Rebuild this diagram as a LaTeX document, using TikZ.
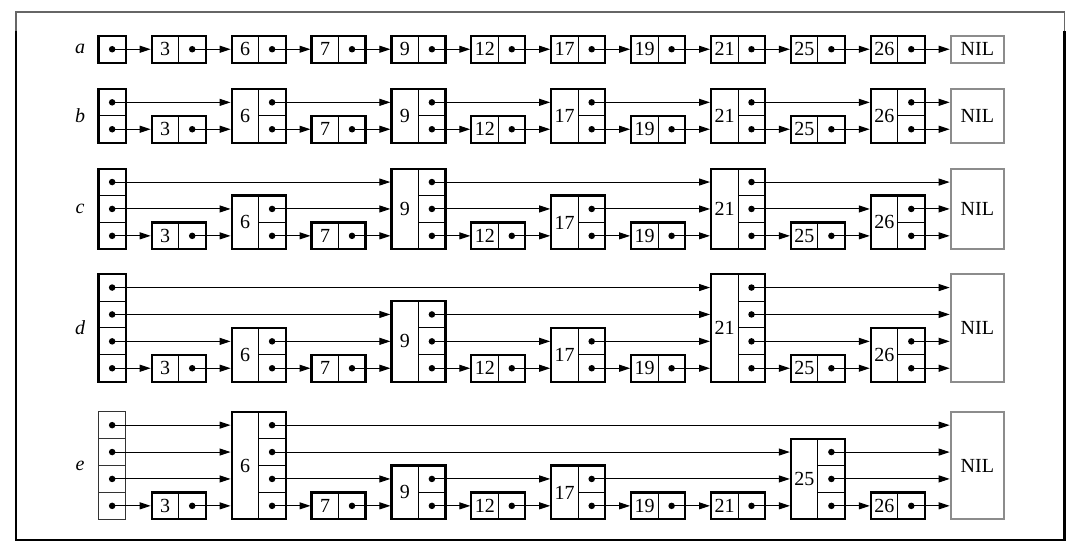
\documentclass[tikz,border=0pt]{standalone}
\usepackage{fontspec}
\setmainfont{Liberation Serif}
\usetikzlibrary{arrows.meta}
\def\ch{26.9}
\tikzset{
  keycell/.style={draw, line width=1pt, minimum width=27pt, inner sep=0pt, outer sep=0pt},
  ptrcell/.style={draw, line width=1pt, minimum width=27pt, minimum height=\ch pt, inner sep=0pt, outer sep=0pt},
  nilbox/.style={draw=black!45, line width=2pt, minimum width=53.3pt, inner sep=0pt, outer sep=0pt},
  arr/.style={line width=1pt, -{Triangle[length=11pt,width=7pt]}, shorten >=1pt},
  dotmark/.style={circle, fill=black, inner sep=0pt, minimum size=6.5pt},
  rowlabel/.style={font=\fontsize{20}{22}\selectfont\itshape},
  frameedge/.style={line width=2.4pt},
  frametop/.style={draw=black!60, line width=1.3pt}
}
\begin{document}
\begin{tikzpicture}[x=1pt,y=-1pt,font=\fontsize{20}{22}\selectfont]
\useasboundingbox (0,0) rectangle (1080,551);
% frame
\draw[frametop] (16,31) -- (16,12) -- (1064.5,12) -- (1064.5,31);
\draw[frameedge] (16,31) -- (16,540) -- (1064.5,540) -- (1064.5,31);
% rows
\foreach \r/\base/\H/\levels/\hw/\hc in {
  a/62.7/1/{1,1,1,1,1,1,1,1,1,1,1,1}/2.2/black,
  b/142.7/2/{2,1,2,1,2,1,2,1,2,1,2,2}/2.2/black,
  c/249.3/3/{3,1,2,1,3,1,2,1,3,1,2,3}/2.2/black,
  d/381.7/4/{4,1,2,1,3,1,2,1,4,1,2,4}/2.2/black,
  e/519.3/4/{4,1,4,1,2,1,2,1,1,3,1,4}/1.1/black!80}{
  % label
  \node[rowlabel] (\r-lab) at (80,\base-\H*\ch/2) {\r};
  % head
  \foreach \k in {1,...,\H}{
    \node[ptrcell, minimum width=27.3pt, draw=\hc] (\r-0-\k) at (112.15,\base-\k*\ch+\ch/2) {};
    \node[dotmark] at (\r-0-\k) {};
  }
  \draw[line width=\hw pt, draw=\hc] (\r-0-\H.north west) rectangle (\r-0-1.south east);
  % elements
  \foreach \j/\key in {1/3,2/6,3/7,4/9,5/12,6/17,7/19,8/21,9/25,10/26}{
    \pgfmathtruncatemacro\L{{\levels}[\j]}
    \pgfmathsetmacro\xl{151.7+79.9*(\j-1)}
    \pgfmathsetmacro\hh{\L*\ch}
    \node[keycell, minimum height=\hh pt] (\r-\j-key) at (\xl+13.5,\base-\hh/2) {\key};
    \foreach \k in {1,...,\L}{
      \node[ptrcell] (\r-\j-\k) at (\xl+40.5,\base-\k*\ch+\ch/2) {};
      \node[dotmark] at (\r-\j-\k) {};
    }
    \draw[line width=2.2pt] (\r-\j-key.north west) rectangle (\r-\j-1.south east);
  }
  % NIL
  \pgfmathsetmacro\hn{\H*\ch}
  \node[nilbox, minimum height=\hn pt] (\r-11-key) at (977.35,\base-\hn/2) {NIL};
  % arrows
  \foreach \k in {1,...,\H}{
    \xdef\last{0}
    \foreach \j in {1,...,11}{
      \pgfmathtruncatemacro\L{{\levels}[\j]}
      \ifnum\L<\k\relax\else
        \draw[arr] (\r-\last-\k.center) -- (\r-\j-key.west |- \r-\last-\k.center);
        \xdef\last{\j}
      \fi
    }
  }
}
\end{tikzpicture}
\end{document}
